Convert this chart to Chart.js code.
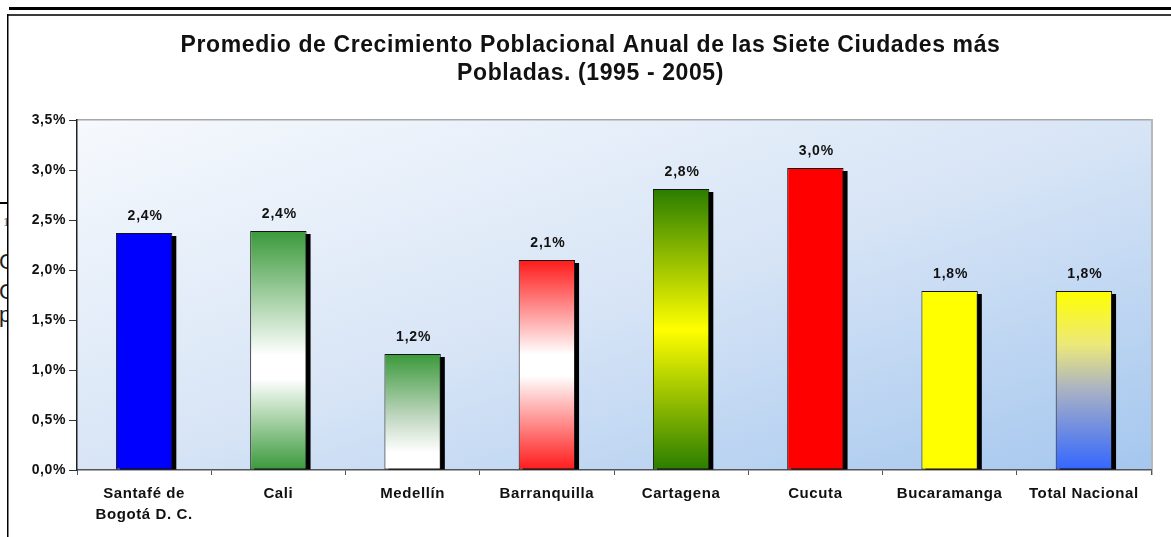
<!DOCTYPE html>
<html>
<head>
<meta charset="utf-8">
<script src="https://cdn.jsdelivr.net/npm/chart.js@4/dist/chart.umd.min.js"></script>
<style>
  html, body { margin: 0; padding: 0; background: #fff; width: 1171px; height: 537px; overflow: hidden; }
  #frag { position: absolute; left: 0; top: 0; width: 8px; height: 537px; overflow: hidden; font-family: "Liberation Sans", Arial, sans-serif; color: #222; }
  #frag span { position: absolute; white-space: nowrap; }
  #c { position: absolute; left: 0; top: 0; }
</style>
</head>
<body>
<div id="frag">
  <span style="left:0;top:202px;width:8px;height:2px;background:#000;"></span>
  <span style="left:3px;top:214px;font-family:'Liberation Serif',serif;font-size:13px;color:#666;">1</span>
  <span style="left:-1px;top:249px;font-size:22px;">C</span>
  <span style="left:-1px;top:279px;font-size:22px;">C</span>
  <span style="left:-1px;top:302px;font-size:22px;">p</span>
</div>
<canvas id="c" width="1171" height="537"></canvas>
<script>
const categories = [["Santafé de", "Bogotá D. C."], "Cali", "Medellín", "Barranquilla", "Cartagena", "Cucuta", "Bucaramanga", "Total Nacional"];
const growthValues = [2.37, 2.39, 1.16, 2.10, 2.81, 3.02, 1.79, 1.79];
const yTickValues = [0, 0.5, 1.0, 1.5, 2.0, 2.5, 3.0, 3.5];
const titleLines = ["Promedio de Crecimiento Poblacional Anual de las Siete Ciudades más", "Pobladas. (1995 - 2005)"];

// bar fill styles (vertical gradient stops)
const fillStops = [
  [[0, '#0000ff'], [1, '#0000ff']],
  [[0, '#3a993a'], [0.52, '#ffffff'], [0.62, '#ffffff'], [1, '#3a993a']],
  [[0, '#3a993a'], [0.55, '#c2d8c2'], [0.85, '#ffffff'], [1, '#ffffff']],
  [[0, '#ff1a1a'], [0.45, '#ffffff'], [0.55, '#ffffff'], [1, '#ff1a1a']],
  [[0, '#2a7d00'], [0.5, '#ffff00'], [1, '#2a7d00']],
  [[0, '#ff0000'], [1, '#ff0000']],
  [[0, '#ffff00'], [1, '#ffff00']],
  [[0, '#ffff00'], [0.3, '#ece87a'], [0.55, '#a9b2c4'], [1, '#3366ff']]
];

const FONT = '"Liberation Sans", Arial, sans-serif';
const SPACING = '0.6px';
const fmt = v => v.toFixed(1).replace('.', ',') + '%';

const spacingPlugin = {
  id: 'spacing',
  beforeUpdate(chart) { chart.ctx.letterSpacing = SPACING; },
  beforeLayout(chart) { chart.ctx.letterSpacing = SPACING; },
  beforeDraw(chart) { chart.ctx.letterSpacing = SPACING; }
};

const decoPlugin = {
  id: 'deco',
  beforeDraw(chart) {
    const ctx = chart.ctx;
    const a = chart.chartArea;
    ctx.save();
    ctx.clearRect(0, 0, chart.width, chart.height);
    ctx.fillStyle = '#fff';
    ctx.fillRect(8, 0, chart.width - 8, chart.height);
    ctx.fillStyle = '#000';
    ctx.fillRect(9, 7, chart.width - 9, 3);
    ctx.fillStyle = '#3a3a3a';
    ctx.fillRect(7, 14, chart.width - 7, 2);
    ctx.fillStyle = '#000';
    ctx.fillRect(7, 14, 1.5, chart.height - 14);
    ctx.save();
    ctx.translate(a.left, a.top);
    ctx.scale(a.right - a.left, a.bottom - a.top);
    const g = ctx.createLinearGradient(0, 0, 1, 1);
    g.addColorStop(0, '#f6f9fd');
    g.addColorStop(0.5, '#d8e5f6');
    g.addColorStop(1, '#a5c7ee');
    ctx.fillStyle = g;
    ctx.fillRect(0, 0, 1, 1);
    ctx.restore();
    ctx.fillStyle = '#a8a8a8';
    ctx.fillRect(a.left, a.top - 1, a.right - a.left, 1.5);
    ctx.fillStyle = '#b8b8b8';
    ctx.fillRect(a.right, a.top - 1, 2, a.bottom - a.top + 6);
    ctx.restore();
  },
  beforeDatasetsDraw(chart) {
    const ctx = chart.ctx;
    const meta = chart.getDatasetMeta(0);
    ctx.save();
    ctx.fillStyle = '#000';
    meta.data.forEach(el => {
      const w = el.width;
      ctx.fillRect(el.x - w / 2 + 4, el.y + 3, w, el.base - el.y - 3);
    });
    ctx.restore();
  },
  afterDatasetsDraw(chart) {
    const ctx = chart.ctx;
    const meta = chart.getDatasetMeta(0);
    ctx.save();
    ctx.letterSpacing = '0.8px';
    ctx.font = 'bold 14px ' + FONT;
    ctx.fillStyle = '#111';
    ctx.textAlign = 'center';
    ctx.textBaseline = 'middle';
    meta.data.forEach((el, i) => {
      ctx.fillText(fmt(growthValues[i]), el.x + 1, el.y - 17);
    });
    ctx.restore();
  }
};

function barFill(context) {
  const chart = context.chart;
  const i = context.dataIndex;
  const stops = fillStops[i];
  if (!chart.chartArea || !chart.scales.y) return stops[0][1];
  const ys = chart.scales.y;
  const top = ys.getPixelForValue(growthValues[i]);
  const base = ys.getPixelForValue(0);
  const g = chart.ctx.createLinearGradient(0, top, 0, base);
  stops.forEach(s => g.addColorStop(s[0], s[1]));
  return g;
}

new Chart(document.getElementById('c'), {
  type: 'bar',
  data: {
    labels: categories,
    datasets: [{
      data: growthValues,
      backgroundColor: barFill,
      borderColor: '#151515',
      borderWidth: 1,
      borderSkipped: false,
      categoryPercentage: 1,
      barPercentage: 0.42
    }]
  },
  options: {
    responsive: false,
    animation: false,
    devicePixelRatio: 1,
    layout: { padding: { left: 30, right: 20, top: 0, bottom: 0 } },
    plugins: {
      legend: { display: false },
      tooltip: { enabled: false },
      title: {
        display: true,
        text: titleLines,
        color: '#111',
        font: { family: FONT, size: 23, weight: 'bold', lineHeight: '28px' },
        padding: { top: 32, bottom: 32 }
      }
    },
    scales: {
      x: {
        grid: { drawOnChartArea: false, drawTicks: true, tickLength: 5, color: '#555', offset: true },
        border: { display: true, color: '#555', width: 1.5 },
        ticks: {
          color: '#111',
          font: { family: FONT, size: 15, weight: 'bold', lineHeight: 1.4 },
          padding: 8, maxRotation: 0, autoSkip: false
        },
        afterFit(s) { s.height = 67; }
      },
      y: {
        min: 0, max: 3.5,
        afterBuildTicks(s) { s.ticks = yTickValues.map(v => ({ value: v })); },
        ticks: {
          color: '#111',
          font: { family: FONT, size: 14, weight: 'bold' },
          padding: 3,
          callback: v => fmt(v)
        },
        grid: { drawOnChartArea: false, drawTicks: true, tickLength: 8, color: '#333' },
        border: { display: true, color: '#222', width: 1.5 },
        afterFit(s) { s.width = 47; }
      }
    }
  },
  plugins: [spacingPlugin, decoPlugin]
});
</script>
</body>
</html>
